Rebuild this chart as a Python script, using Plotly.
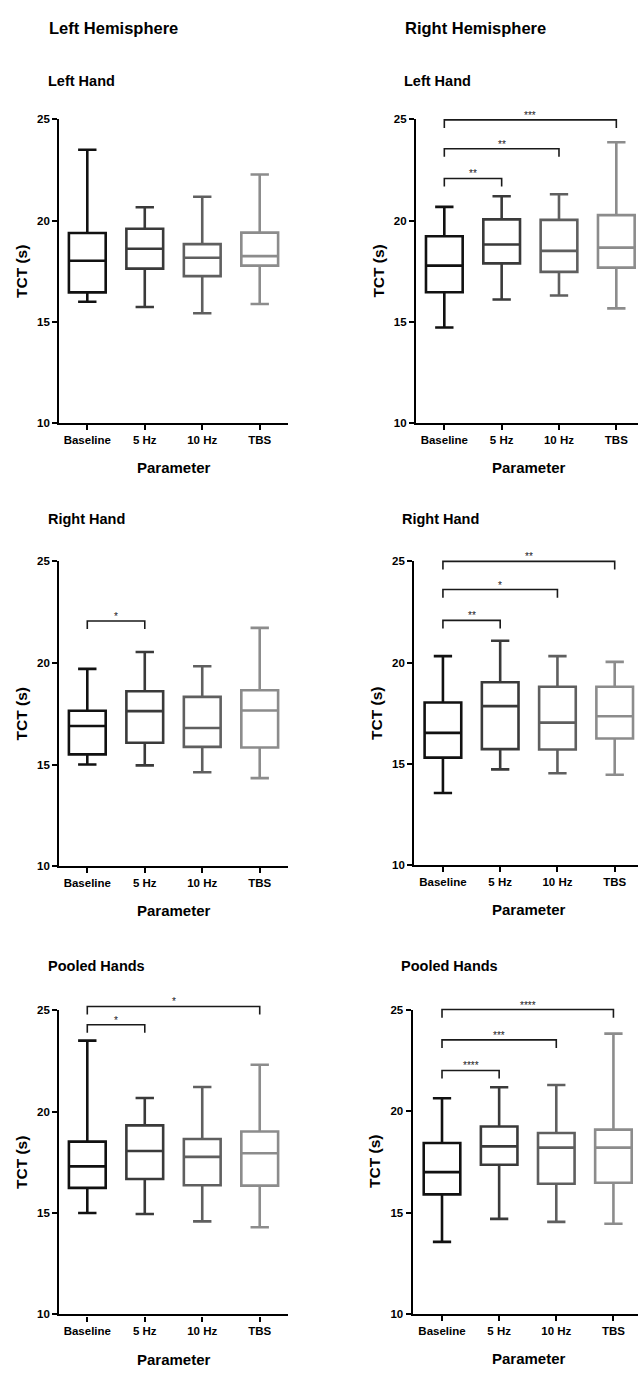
import plotly.graph_objects as go

W, H = 638, 1373
FONT = "Liberation Sans"

categories = ["Baseline", "5 Hz", "10 Hz", "TBS"]
box_colors = ["#111111", "#3a3a3a", "#5f5f5f", "#8c8c8c"]

# ---- Left hemisphere, left hand ----
lhem_lhand_min = [16.0, 15.74, 15.43, 15.89]
lhem_lhand_q1 = [16.46, 17.63, 17.26, 17.78]
lhem_lhand_med = [18.02, 18.61, 18.17, 18.25]
lhem_lhand_q3 = [19.39, 19.6, 18.84, 19.41]
lhem_lhand_max = [23.5, 20.66, 21.18, 22.28]
lhem_lhand_sig_to = []
lhem_lhand_sig_y = []
lhem_lhand_sig_txt = []

# ---- Right hemisphere, left hand ----
rhem_lhand_min = [14.73, 16.11, 16.31, 15.67]
rhem_lhand_q1 = [16.47, 17.89, 17.47, 17.68]
rhem_lhand_med = [17.78, 18.82, 18.51, 18.67]
rhem_lhand_q3 = [19.23, 20.06, 20.04, 20.27]
rhem_lhand_max = [20.68, 21.2, 21.3, 23.87]
rhem_lhand_sig_to = ["5 Hz", "10 Hz", "TBS"]
rhem_lhand_sig_y = [22.08, 23.55, 24.97]
rhem_lhand_sig_txt = ["**", "**", "***"]

# ---- Left hemisphere, right hand ----
lhem_rhand_min = [15.0, 14.96, 14.62, 14.33]
lhem_rhand_q1 = [15.5, 16.07, 15.87, 15.84]
lhem_rhand_med = [16.9, 17.63, 16.8, 17.66]
lhem_rhand_q3 = [17.65, 18.61, 18.33, 18.66]
lhem_rhand_max = [19.71, 20.54, 19.84, 21.73]
lhem_rhand_sig_to = ["5 Hz"]
lhem_rhand_sig_y = [22.07]
lhem_rhand_sig_txt = ["*"]

# ---- Right hemisphere, right hand ----
rhem_rhand_min = [13.56, 14.73, 14.54, 14.46]
rhem_rhand_q1 = [15.31, 15.73, 15.71, 16.25]
rhem_rhand_med = [16.53, 17.85, 17.04, 17.35]
rhem_rhand_q3 = [18.03, 19.03, 18.81, 18.81]
rhem_rhand_max = [20.32, 21.08, 20.32, 20.04]
rhem_rhand_sig_to = ["5 Hz", "10 Hz", "TBS"]
rhem_rhand_sig_y = [22.09, 23.61, 25.0]
rhem_rhand_sig_txt = ["**", "*", "**"]

# ---- Left hemisphere, pooled hands ----
lhem_pool_min = [15.0, 14.95, 14.59, 14.3]
lhem_pool_q1 = [16.24, 16.68, 16.37, 16.35]
lhem_pool_med = [17.3, 18.06, 17.77, 17.95]
lhem_pool_q3 = [18.52, 19.32, 18.65, 19.02]
lhem_pool_max = [23.5, 20.67, 21.21, 22.31]
lhem_pool_sig_to = ["5 Hz", "TBS"]
lhem_pool_sig_y = [24.28, 25.18]
lhem_pool_sig_txt = ["*", "*"]

# ---- Right hemisphere, pooled hands ----
rhem_pool_min = [13.55, 14.69, 14.54, 14.45]
rhem_pool_q1 = [15.9, 17.36, 16.42, 16.47]
rhem_pool_med = [17.0, 18.27, 18.21, 18.21]
rhem_pool_q3 = [18.44, 19.25, 18.93, 19.1]
rhem_pool_max = [20.65, 21.19, 21.3, 23.84]
rhem_pool_sig_to = ["5 Hz", "10 Hz", "TBS"]
rhem_pool_sig_y = [22.02, 23.53, 25.03]
rhem_pool_sig_txt = ["****", "***", "****"]

y_ticks = [10, 15, 20, 25]
y_range = [10, 25]
bracket_drop = 0.4

panels = [
    dict(title="Left Hand", mn=lhem_lhand_min, q1=lhem_lhand_q1, med=lhem_lhand_med, q3=lhem_lhand_q3, mx=lhem_lhand_max,
         sig_to=lhem_lhand_sig_to, sig_y=lhem_lhand_sig_y, sig_txt=lhem_lhand_sig_txt,
         px=(59.3, 288), py=(114.3, 421), xr=(-0.487, 3.492), title_x=45.7, title_y=76, ytl_x=21.7, xt_x=174),
    dict(title="Left Hand", mn=rhem_lhand_min, q1=rhem_lhand_q1, med=rhem_lhand_med, q3=rhem_lhand_q3, mx=rhem_lhand_max,
         sig_to=rhem_lhand_sig_to, sig_y=rhem_lhand_sig_y, sig_txt=rhem_lhand_sig_txt,
         px=(416, 638), py=(114.3, 421), xr=(-0.494, 3.378), title_x=402, title_y=76, ytl_x=378.3, xt_x=529),
    dict(title="Right Hand", mn=lhem_rhand_min, q1=lhem_rhand_q1, med=lhem_rhand_med, q3=lhem_rhand_q3, mx=lhem_rhand_max,
         sig_to=lhem_rhand_sig_to, sig_y=lhem_rhand_sig_y, sig_txt=lhem_rhand_sig_txt,
         px=(59.3, 288), py=(560.3, 867.7), xr=(-0.487, 3.492), title_x=45.7, title_y=518, ytl_x=21.7, xt_x=174),
    dict(title="Right Hand", mn=rhem_rhand_min, q1=rhem_rhand_q1, med=rhem_rhand_med, q3=rhem_rhand_q3, mx=rhem_rhand_max,
         sig_to=rhem_rhand_sig_to, sig_y=rhem_rhand_sig_y, sig_txt=rhem_rhand_sig_txt,
         px=(414.3, 638), py=(560.3, 866.7), xr=(-0.50, 3.407), title_x=400, title_y=518, ytl_x=376.7, xt_x=529),
    dict(title="Pooled Hands", mn=lhem_pool_min, q1=lhem_pool_q1, med=lhem_pool_med, q3=lhem_pool_q3, mx=lhem_pool_max,
         sig_to=lhem_pool_sig_to, sig_y=lhem_pool_sig_y, sig_txt=lhem_pool_sig_txt,
         px=(59.3, 288), py=(1013, 1320), xr=(-0.487, 3.492), title_x=45.7, title_y=968, ytl_x=21.7, xt_x=174),
    dict(title="Pooled Hands", mn=rhem_pool_min, q1=rhem_pool_q1, med=rhem_pool_med, q3=rhem_pool_q3, mx=rhem_pool_max,
         sig_to=rhem_pool_sig_to, sig_y=rhem_pool_sig_y, sig_txt=rhem_pool_sig_txt,
         px=(412.7, 638), py=(1013, 1319.3), xr=(-0.513, 3.43), title_x=398.7, title_y=968, ytl_x=375, xt_x=529),
]

def fx(p):
    return p / W

def fy(p):
    return 1 - p / H

fig = go.Figure()
layout = dict(
    width=W, height=H, margin=dict(l=0, r=0, t=0, b=0),
    paper_bgcolor="white", plot_bgcolor="rgba(0,0,0,0)",
    showlegend=False, boxmode="overlay",
    font=dict(family=FONT, color="#000000"),
)
annotations = []
extra_units = 1.2

for i, p in enumerate(panels):
    n = i + 1
    nb = i + 7
    xa, ya = ("x" if n == 1 else f"x{n}"), ("y" if n == 1 else f"y{n}")
    xb, yb = f"x{nb}", f"y{nb}"
    x0, x1 = p["px"]
    ytop, ybot = p["py"]
    for c, cat in enumerate(categories):
        fig.add_trace(go.Box(
            x=[cat], q1=[p["q1"][c]], median=[p["med"][c]], q3=[p["q3"][c]],
            lowerfence=[p["mn"][c]], upperfence=[p["mx"][c]],
            boxpoints=False, width=0.64, whiskerwidth=0.5,
            line=dict(color=box_colors[c], width=2.6), fillcolor="white",
            xaxis=xa, yaxis=ya, hoverinfo="skip",
        ))
    axis_font = dict(family=FONT, size=11.5, color="#000000", weight="bold")
    layout[f"xaxis{'' if n == 1 else n}"] = dict(
        domain=[fx(x0), fx(x1)], anchor=ya, type="category",
        categoryorder="array", categoryarray=categories, range=list(p["xr"]),
        showline=True, linewidth=2.3, linecolor="#000000", mirror=False,
        ticks="outside", ticklen=5, tickwidth=2, tickcolor="#000000",
        tickfont=axis_font, showgrid=False, zeroline=False, fixedrange=True,
    )
    layout[f"yaxis{'' if n == 1 else n}"] = dict(
        domain=[fy(ybot), fy(ytop)], anchor=xa, range=y_range, tickvals=y_ticks,
        showline=True, linewidth=2.3, linecolor="#000000",
        ticks="outside", ticklen=5, tickwidth=2, tickcolor="#000000",
        tickfont=axis_font, showgrid=False, zeroline=False, fixedrange=True,
    )
    # bracket layer: same scale, extended upward so brackets are not clipped
    ppu = (ybot - ytop) / (y_range[1] - y_range[0])
    layout[f"xaxis{nb}"] = dict(
        domain=[fx(x0), fx(x1)], anchor=yb, type="category",
        categoryorder="array", categoryarray=categories, range=list(p["xr"]),
        visible=False, fixedrange=True,
    )
    layout[f"yaxis{nb}"] = dict(
        domain=[fy(ybot), fy(ytop - extra_units * ppu)], anchor=xb,
        range=[y_range[0], y_range[1] + extra_units], visible=False, fixedrange=True,
    )
    for to, yv, txt in zip(p["sig_to"], p["sig_y"], p["sig_txt"]):
        fig.add_trace(go.Scatter(
            x=[categories[0], categories[0], to, to],
            y=[yv - bracket_drop, yv, yv, yv - bracket_drop],
            mode="lines", line=dict(color="#1a1a1a", width=1.6),
            xaxis=xb, yaxis=yb, hoverinfo="skip", cliponaxis=False,
        ))
        annotations.append(dict(
            x=categories.index(to) / 2, y=yv, xref=xb, yref=yb,
            text=txt, showarrow=False, xanchor="center", yanchor="bottom", yshift=-3,
            font=dict(family=FONT, size=10, color="#1a1a1a"),
        ))
    # panel subtitle
    annotations.append(dict(
        x=fx(p["title_x"]), y=fy(p["title_y"]), xref="paper", yref="paper",
        text=p["title"], showarrow=False, xanchor="left", yanchor="middle",
        font=dict(family=FONT, size=14.5, color="#000000", weight="bold"),
    ))
    # y-axis title
    annotations.append(dict(
        x=fx(p["ytl_x"]), y=fy((ytop + ybot) / 2), xref="paper", yref="paper",
        text="TCT (s)", showarrow=False, textangle=-90, xanchor="center", yanchor="middle",
        font=dict(family=FONT, size=15.5, color="#000000", weight="bold"),
    ))
    # x-axis title
    annotations.append(dict(
        x=fx(p["xt_x"]), y=fy(ybot + 45), xref="paper", yref="paper",
        text="Parameter", showarrow=False, xanchor="center", yanchor="middle",
        font=dict(family=FONT, size=15, color="#000000", weight="bold"),
    ))

# hemisphere headers
for txt, xpx in [("Left Hemisphere", 46.7), ("Right Hemisphere", 403.3)]:
    annotations.append(dict(
        x=fx(xpx), y=fy(22.5), xref="paper", yref="paper", text=txt, showarrow=False,
        xanchor="left", yanchor="middle",
        font=dict(family=FONT, size=16.5, color="#000000", weight="bold"),
    ))

layout["annotations"] = annotations
fig.update_layout(**layout)
fig.write_html(
    "out.html",
    config={"displayModeBar": False},
    post_script="document.body.style.margin='0';document.body.style.overflow='hidden';",
)
